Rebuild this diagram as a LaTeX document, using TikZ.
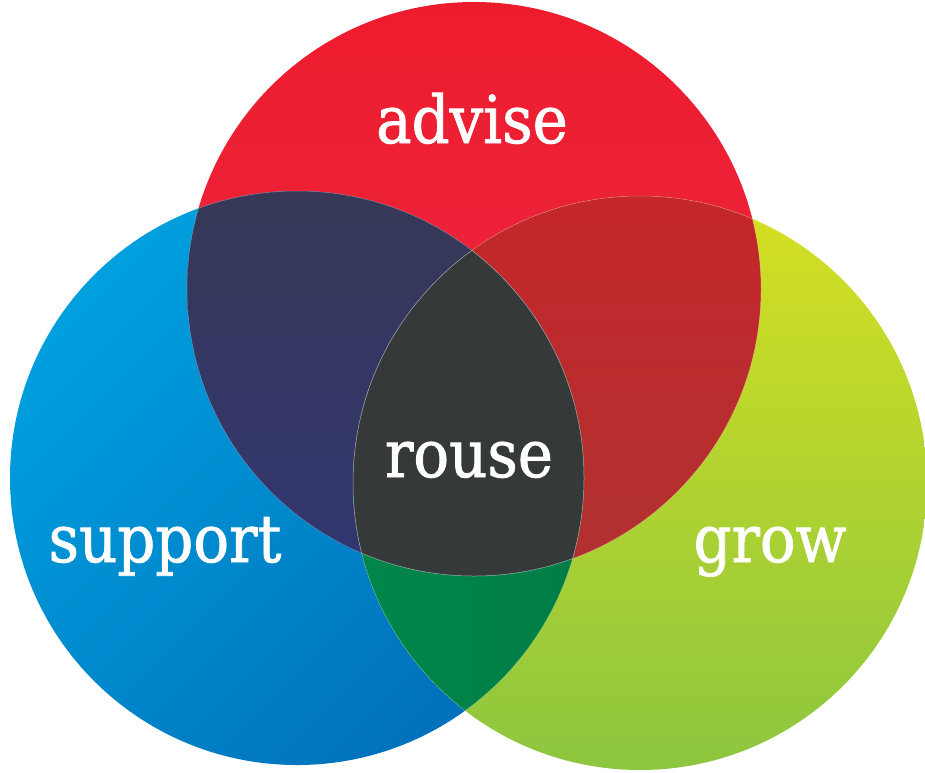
\documentclass[tikz,border=0pt]{standalone}
\usepackage{fontspec}
\setmainfont{DejaVu Serif}[FakeStretch=0.9, FakeBold=1.2]
\definecolor{redA}{HTML}{ED1C2D}
\definecolor{redB}{HTML}{EE2A48}
\definecolor{blueA}{HTML}{00A0DF}
\definecolor{blueB}{HTML}{0070BA}
\definecolor{greenA}{HTML}{D6E022}
\definecolor{greenB}{HTML}{8CC63F}
\definecolor{navyA}{HTML}{363856}
\definecolor{navyB}{HTML}{30357F}
\definecolor{maroonA}{HTML}{C4262B}
\definecolor{maroonB}{HTML}{A63833}
\definecolor{dgreenA}{HTML}{00864A}
\definecolor{dgreenB}{HTML}{00703F}
\definecolor{core}{HTML}{36393A}
\tikzset{
  lbl/.style={text=white, anchor=base, font=\fontsize{66}{70}\selectfont, inner sep=0pt},
  edge/.style={draw=white, draw opacity=0.3, line width=0.5pt}
}
\begin{document}
\begin{tikzpicture}[x=1pt,y=-1pt]
\useasboundingbox (0,0) rectangle (925,772);
\def\R{287}
\coordinate (cr) at (474,289);
\coordinate (cb) at (297,478);
\coordinate (cg) at (640,483);
% base circles
\shade[top color=redA, bottom color=redB] (cr) circle (\R);
\shade[top color=blueA, bottom color=blueB, shading angle=45] (cb) circle (\R);
\shade[top color=greenA, bottom color=greenB] (cg) circle (\R);
% red & blue
\begin{scope}
  \clip (cr) circle (\R);
  \shade[top color=navyA, bottom color=navyB] (cb) circle (\R);
\end{scope}
% red & green
\begin{scope}
  \clip (cr) circle (\R);
  \shade[top color=maroonA, bottom color=maroonB] (cg) circle (\R);
\end{scope}
% blue & green
\begin{scope}
  \clip (cb) circle (\R);
  \shade[left color=dgreenA, right color=dgreenB] (cg) circle (\R);
\end{scope}
% all three
\begin{scope}
  \clip (cr) circle (\R);
  \clip (cb) circle (\R);
  \fill[core] (cg) circle (\R);
\end{scope}
% faint edges inside overlaps
\begin{scope}
  \clip (cr) circle (\R);
  \draw[edge] (cb) circle (\R);
  \draw[edge] (cg) circle (\R);
\end{scope}
\begin{scope}
  \clip (cb) circle (\R);
  \draw[edge] (cg) circle (\R);
  \draw[edge] (cr) circle (\R);
\end{scope}
\begin{scope}
  \clip (cg) circle (\R);
  \draw[edge] (cb) circle (\R);
  \draw[edge] (cr) circle (\R);
\end{scope}
% labels
\node[lbl] (advise) at (472,143) {advise};
\node[lbl] (rouse) at (469,477) {rouse};
\node[lbl] (support) at (165,562) {support};
\node[lbl] (grow) at (770,562) {grow};
\end{tikzpicture}
\end{document}
